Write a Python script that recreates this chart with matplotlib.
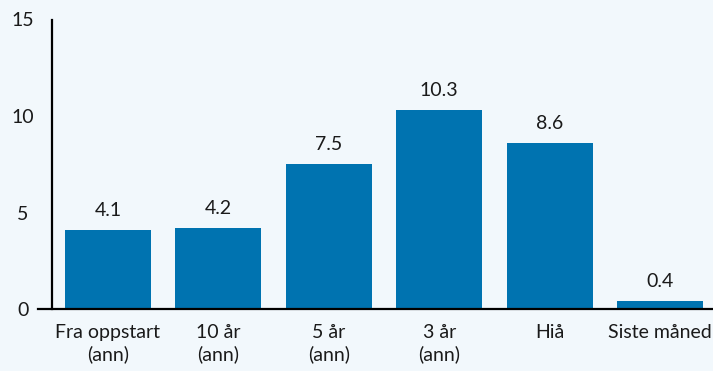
import matplotlib
matplotlib.use("Agg")
import matplotlib.pyplot as plt

categories = ["Fra oppstart\n(ann)", "10 år\n(ann)", "5 år\n(ann)", "3 år\n(ann)", "Hiå", "Siste måned"]
values = [4.1, 4.2, 7.5, 10.3, 8.6, 0.4]
yticks = [0, 5, 10, 15]

bg = "#f2f8fc"
bar_color = "#0073b0"
fs = 14

plt.rcParams['font.family'] = ['Lato', 'DejaVu Sans']

fig = plt.figure(figsize=(7.13, 3.71), dpi=100, facecolor=bg)
ax = fig.add_axes([38/713, 62/371, 675/713, 289.5/371])
ax.set_facecolor(bg)

for s in ["top", "right"]:
    ax.spines[s].set_visible(False)
ax.spines["left"].set_position(("axes", 14/675))
ax.spines["left"].set_linewidth(1.6)
ax.spines["bottom"].set_linewidth(1.6)

x = list(range(len(values)))
ax.bar(x, values, width=0.78, color=bar_color, zorder=2)
for xi, v in zip(x, values):
    ax.annotate(f"{v:.1f}", (xi, v), xytext=(0, 8), textcoords="offset points",
                ha="center", va="bottom", fontsize=fs, color="#1a1a1a")

ax.set_xlim(-0.634, 5.48)
ax.set_ylim(0, 15)
ax.set_yticks(yticks)
ax.set_xticks(x)
ax.set_xticklabels(categories, fontsize=fs, color="#1a1a1a", linespacing=1.3)
ax.set_yticklabels([str(t) for t in yticks], fontsize=fs, color="#1a1a1a")
ax.tick_params(axis="both", length=0)
ax.tick_params(axis="y", pad=21)
ax.tick_params(axis="x", pad=11)
for lab in ax.get_yticklabels():
    lab.set_horizontalalignment("center")

fig.savefig("out.png", dpi=100, facecolor=bg)
